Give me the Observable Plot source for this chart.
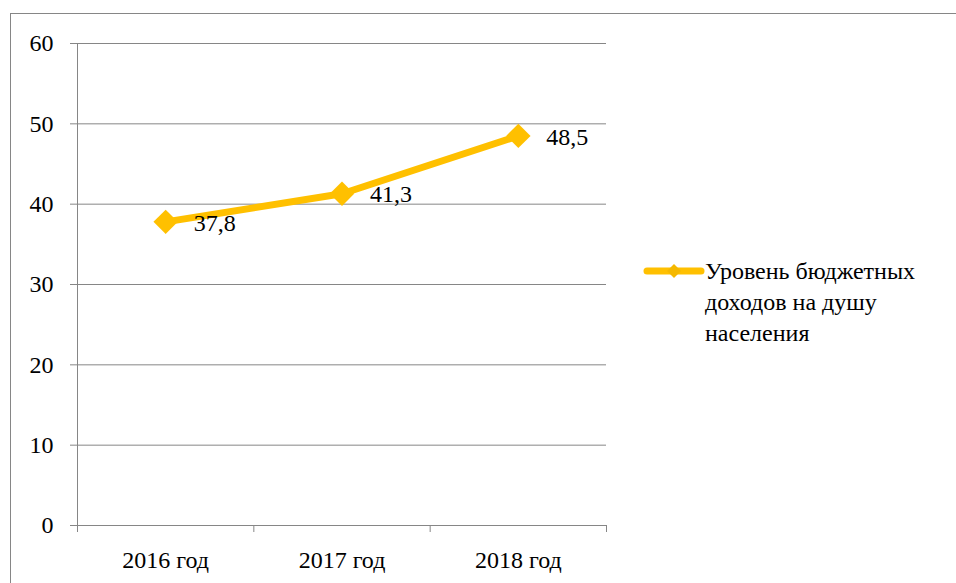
<!DOCTYPE html>
<html>
<head>
<meta charset="utf-8">
<script src="https://cdn.jsdelivr.net/npm/d3@7"></script>
<script src="https://cdn.jsdelivr.net/npm/@observablehq/plot@0.6"></script>
<style>
  html, body { margin: 0; padding: 0; background: #fff; overflow: hidden; }
  #wrap { position: relative; width: 956px; height: 583px; }
  #frame { position: absolute; left: 10px; top: 13px; width: 960px; height: 600px; border: 1px solid #868686; box-sizing: border-box; }
  #chart { position: absolute; left: 0; top: 0; }
  #legend { position: absolute; left: 643px; top: 256px; font-family: "Liberation Serif", "Times New Roman", Times, "Nimbus Roman", "FreeSerif", "DejaVu Serif", serif; font-size: 24px; line-height: 31px; color: #000; }
  #legend svg { position: absolute; left: 0; top: 6px; }
  #legend .txt { position: absolute; left: 62px; top: 0; width: 260px; }
</style>
</head>
<body>
<div id="wrap">
  <div id="frame"></div>
  <div id="chart"></div>
  <div id="legend">
    <svg width="64" height="20">
      <line x1="4" y1="9" x2="58" y2="9" stroke="#FFC000" stroke-width="7" stroke-linecap="round"></line>
      <path d="M31,2 L38,9 L31,16 L24,9 Z" fill="#F5B800"></path>
    </svg>
    <div class="txt">Уровень бюджетных доходов на душу населения</div>
  </div>
</div>
<script>
const categories = ["2016 год", "2017 год", "2018 год"];
const values = [37.8, 41.3, 48.5];
const yTicks = [0, 10, 20, 30, 40, 50, 60];
const seriesName = "Уровень бюджетных доходов на душу населения";

const rows = categories.map((c, i) => ({i, c, v: values[i]}));
const fmt = v => String(v).replace(".", ",");
const grey = "#868686";
const serif = '"Liberation Serif", "Times New Roman", Times, "Nimbus Roman", "FreeSerif", "DejaVu Serif", serif';

const chart = Plot.plot({
  width: 956,
  height: 583,
  marginLeft: 77,
  marginRight: 350,
  marginTop: 43,
  marginBottom: 58,
  style: {fontFamily: serif, fontSize: "24px", color: "#000", background: "transparent"},
  x: {type: "linear", domain: [-0.5, categories.length - 0.5]},
  y: {domain: [0, 60]},
  marks: [
    Plot.gridY(yTicks, {stroke: grey, strokeOpacity: 1}),
    Plot.ruleX([-0.5], {stroke: grey}),
    Plot.axisY({ticks: yTicks, tickSize: 7, tickPadding: 17, stroke: grey, fill: "#000", label: null, fontSize: 24, fontFamily: serif}),
    Plot.axisX({ticks: d3.range(categories.length + 1).map(k => k - 0.5), tickSize: 7, tickFormat: () => "", stroke: grey, label: null}),
    Plot.axisX({ticks: d3.range(categories.length), tickSize: 0, tickPadding: 25, tickFormat: i => categories[i], fill: "#000", label: null, fontSize: 24, fontFamily: serif}),
    Plot.line(rows, {x: "i", y: "v", stroke: "#FFC000", strokeWidth: 7, strokeLinecap: "round", strokeLinejoin: "round"}),
    Plot.dot(rows, {x: "i", y: "v", symbol: "diamond2", r: 11, fill: "#FFC000", stroke: "none", ariaLabel: "markers"}),
    Plot.text(rows, {x: "i", y: "v", text: d => fmt(d.v), dx: 28, dy: 1, textAnchor: "start", fontSize: 24, fontFamily: serif, fill: "#000"})
  ]
});

const svg = d3.select(chart);
svg.selectAll("text").style("font-family", serif);
const defs = svg.insert("defs", ":first-child");
const f = defs.append("filter").attr("id", "mshadow").attr("x", "-50%").attr("y", "-50%").attr("width", "200%").attr("height", "200%");
f.append("feDropShadow").attr("dx", 2).attr("dy", 4).attr("stdDeviation", 2.5).attr("flood-color", "#000").attr("flood-opacity", 0.45);
svg.selectAll('g[aria-label="markers"]').attr("filter", "url(#mshadow)");

document.getElementById("chart").appendChild(chart);
</script>
</body>
</html>
